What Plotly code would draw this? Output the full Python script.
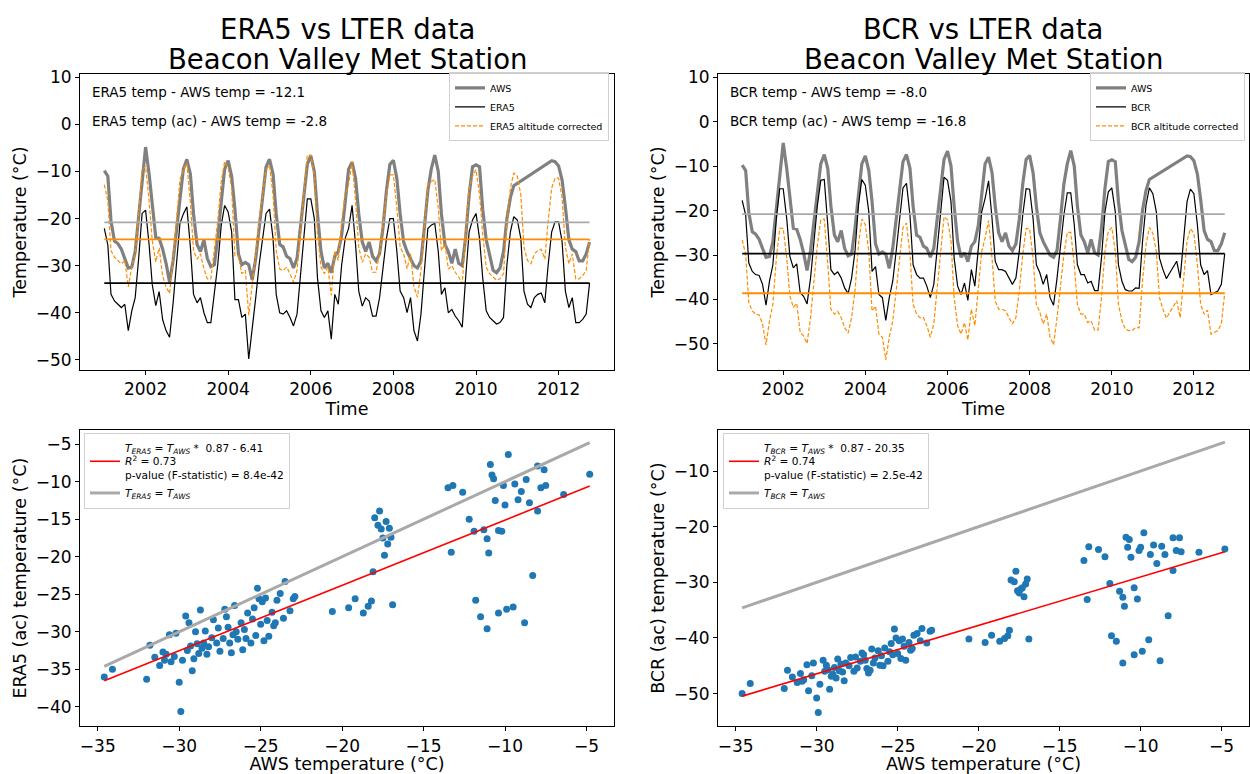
import pandas as pd
import plotly.graph_objects as go

# ---------------- data ----------------
MONTHS = pd.date_range("2001-01-01", "2012-10-01", freq="MS")

AWS = [
    -9.8, -11.0, -20.5, -24.8, -25.3, -26.5, -28.5, -30.5, -30.3, -27.0, -19.5, -11.5,
    -4.8, -10.5, -17.5, -24.0, -24.2, -26.5, -29.5, -33.5, -29.0, -22.5, -15.0, -9.5,
    -7.4, -10.5, -19.0, -25.5, -27.0, -24.5, -28.5, -30.2, -29.8, -24.0, -16.5, -9.5,
    -7.7, -11.0, -18.0, -27.5, -29.8, -29.3, -29.8, -33.0, -28.5, -22.0, -14.0, -9.0,
    -7.4, -10.5, -19.0, -25.5, -26.0, -28.0, -28.5, -30.5, -28.5, -22.0, -14.0, -8.5,
    -6.6, -10.0, -19.0, -27.0, -30.5, -29.5, -31.5, -28.0, -27.0, -23.5, -16.5, -9.5,
    -8.0, -11.5, -19.0, -25.0, -27.0, -25.0, -28.0, -29.0, -27.5, -22.0, -14.0, -8.5,
    -7.6, -11.5, -19.0, -25.0, -27.0, -28.5, -30.0, -30.5, -29.0, -22.0, -14.0, -9.5,
    -6.5, -10.0, -19.0, -25.5, -27.0, -29.5, -26.5, -29.5, -30.0, -24.0, -15.0, -9.0,
    -8.6, -9.0, -18.0, -24.5, -28.0, -31.0, -31.5, -30.5, -27.0, -20.0, -15.5, -13.0,
    None, None, None, None, None, None, None, None, None, None, -7.7, -7.9,
    -8.8, -11.8, -17.5, -24.5, -26.5, -27.0, -29.0, -29.0, -27.5, -25.0,
]

ERA5 = [
    -22.1, -25.6, -36.1, -37.5, -38.2, -38.9, -38.2, -43.8, -39.6, -36.8, -28.4, -18.9,
    -18.2, -25.5, -34.0, -38.5, -35.5, -41.5, -43.8, -45.2, -38.0, -29.0, -21.0, -19.0,
    -17.5, -26.0, -36.1, -37.9, -36.8, -40.0, -42.1, -42.1, -36.1, -29.8, -21.4, -17.2,
    -18.6, -22.8, -37.2, -37.2, -41.0, -40.3, -49.8, -43.8, -36.8, -29.8, -24.2, -18.9,
    -18.0, -24.2, -36.1, -40.0, -40.3, -39.6, -41.0, -42.8, -40.3, -32.6, -24.2, -15.8,
    -15.8, -20.0, -32.6, -39.6, -41.0, -39.6, -45.6, -36.1, -38.2, -29.8, -24.2, -22.1,
    -17.2, -25.6, -35.4, -38.6, -36.8, -37.5, -40.7, -40.7, -36.8, -31.2, -24.2, -20.0,
    -20.0, -27.0, -35.4, -36.8, -40.0, -36.8, -43.8, -46.0, -40.3, -31.2, -22.1, -21.4,
    -21.0, -27.0, -36.1, -34.7, -40.0, -39.3, -40.7, -41.7, -43.1, -32.6, -22.8, -20.3,
    -18.9, -24.2, -32.6, -39.6, -41.0, -41.7, -42.4, -42.1, -41.0, -29.8, -22.8, -19.6,
    -20.3, -24.2, -35.4, -38.2, -38.9, -36.8, -36.1, -35.8, -37.9, -29.8, -22.8, -20.7,
    -20.7, -24.9, -35.4, -38.9, -36.8, -42.1, -42.1, -41.4, -40.3, -33.7,
]

ERA5_AC = [
    -12.8, -16.3, -26.8, -28.2, -28.9, -29.6, -28.9, -34.5, -30.3, -27.5, -19.1, -9.6,
    -8.9, -16.2, -24.7, -29.2, -26.2, -32.2, -34.5, -35.9, -28.7, -19.7, -11.7, -9.7,
    -8.2, -16.7, -26.8, -28.6, -27.5, -30.7, -32.8, -32.8, -26.8, -20.5, -12.1, -7.9,
    -9.3, -13.5, -27.9, -27.9, -31.7, -31.0, -40.5, -34.5, -27.5, -20.5, -14.9, -9.6,
    -8.7, -14.9, -26.8, -30.7, -31.0, -30.3, -31.7, -33.5, -31.0, -23.3, -14.9, -6.5,
    -6.5, -10.7, -23.3, -30.3, -31.7, -30.3, -36.3, -26.8, -28.9, -20.5, -14.9, -12.8,
    -7.9, -16.3, -26.1, -29.3, -27.5, -28.2, -31.4, -31.4, -27.5, -21.9, -14.9, -10.7,
    -10.7, -17.7, -26.1, -27.5, -30.7, -27.5, -34.5, -36.7, -31.0, -21.9, -12.8, -12.1,
    -11.7, -17.7, -26.8, -25.4, -30.7, -30.0, -31.4, -32.4, -33.8, -23.3, -13.5, -11.0,
    -9.6, -14.9, -23.3, -30.3, -31.7, -32.4, -33.1, -32.8, -31.7, -20.5, -13.5, -10.3,
    -11.0, -14.9, -26.1, -28.9, -29.6, -27.5, -26.8, -26.5, -28.6, -20.5, -13.5, -11.4,
    -11.4, -15.6, -26.1, -29.6, -27.5, -32.8, -32.8, -32.1, -31.0, -24.4,
]

BCR = [
    -17.7, -21.0, -31.8, -33.7, -34.4, -34.6, -36.6, -41.3, -35.9, -32.2, -21.8, -15.1,
    -15.1, -21.8, -30.3, -32.9, -32.0, -38.5, -39.3, -41.0, -35.2, -27.7, -18.8, -13.2,
    -13.0, -23.2, -33.3, -34.4, -33.8, -35.2, -37.4, -38.7, -35.2, -29.2, -18.8, -13.0,
    -14.3, -20.3, -33.7, -32.6, -38.9, -39.6, -44.7, -39.6, -35.9, -29.2, -21.8, -14.9,
    -13.9, -21.0, -32.2, -34.4, -35.2, -35.2, -37.0, -39.6, -36.6, -29.2, -20.3, -12.5,
    -13.2, -18.0, -30.7, -37.0, -38.9, -36.3, -40.2, -33.3, -37.0, -29.2, -20.3, -17.3,
    -13.3, -21.8, -31.4, -33.3, -33.3, -33.7, -35.2, -36.6, -35.2, -29.2, -21.0, -15.1,
    -15.2, -21.8, -32.2, -34.0, -36.6, -34.4, -39.6, -41.3, -35.2, -28.5, -21.0, -16.0,
    -16.0, -23.2, -32.2, -34.4, -34.4, -36.3, -35.9, -38.0, -38.0, -30.7, -20.3, -15.8,
    -14.9, -20.3, -32.2, -35.9, -37.8, -38.1, -38.1, -37.4, -37.5, -27.0, -18.8, -14.9,
    -16.2, -20.3, -30.7, -33.3, -35.3, -34.0, -32.8, -31.4, -35.2, -26.2, -18.0, -15.2,
    -16.2, -23.2, -32.2, -34.4, -33.5, -38.9, -38.5, -38.1, -36.6, -29.7,
]

BCR_AC = [
    -26.6, -29.9, -40.7, -42.6, -43.3, -43.5, -45.5, -50.2, -44.8, -41.1, -30.7, -24.0,
    -24.0, -30.7, -39.2, -41.8, -40.9, -47.4, -48.2, -49.9, -44.1, -36.6, -27.7, -22.1,
    -21.9, -32.1, -42.2, -43.3, -42.7, -44.1, -46.3, -47.6, -44.1, -38.1, -27.7, -21.9,
    -23.2, -29.2, -42.6, -41.5, -47.8, -48.5, -53.6, -48.5, -44.8, -38.1, -30.7, -23.8,
    -22.8, -29.9, -41.1, -43.3, -44.1, -44.1, -45.9, -48.5, -45.5, -38.1, -29.2, -21.4,
    -22.1, -26.9, -39.6, -45.9, -47.8, -45.2, -49.1, -42.2, -45.9, -38.1, -29.2, -26.2,
    -22.2, -30.7, -40.3, -42.2, -42.2, -42.6, -44.1, -45.5, -44.1, -38.1, -29.9, -24.0,
    -24.1, -30.7, -41.1, -42.9, -45.5, -43.3, -48.5, -50.2, -44.1, -37.4, -29.9, -24.9,
    -24.9, -32.1, -41.1, -43.3, -43.3, -45.2, -44.8, -46.9, -46.9, -39.6, -29.2, -24.7,
    -23.8, -29.2, -41.1, -44.8, -46.7, -47.0, -47.0, -46.3, -46.4, -35.9, -27.7, -23.8,
    -25.1, -29.2, -39.6, -42.2, -44.2, -42.9, -41.7, -40.3, -44.1, -35.1, -26.9, -24.1,
    -25.1, -32.1, -41.1, -43.3, -42.4, -47.8, -47.4, -47.0, -45.5, -38.6,
]

# mean levels drawn as horizontal lines
AWS_MEAN = -20.8
ERA5_MEAN = -33.7
ERA5_AC_MEAN = -24.4
BCR_MEAN = -29.7
BCR_AC_MEAN = -38.6

TIME_TICKS = ["2002", "2004", "2006", "2008", "2010", "2012"]

# scatter data: AWS temperature vs altitude-corrected reanalysis temperature
SC_AWS = [
    -34.6, -34.1, -32.0, -31.5, -31.0, -31.2, -30.8, -30.6, -30.5, -30.3, -30.2, -30.0, -29.9,
    -29.8, -29.6, -29.5, -29.3, -29.2, -29.0, -28.9, -28.8, -28.7, -28.6, -28.5, -28.4, -28.2,
    -28.0, -27.9, -27.7, -27.5, -27.3, -27.2, -27.0, -26.9, -26.8, -26.6, -26.5, -26.4, -26.2,
    -26.0, -25.9, -25.8, -25.6, -25.5, -25.3, -25.2, -25.1, -25.0, -24.9, -24.8, -24.6, -24.5,
    -24.3, -24.2, -24.0, -23.8, -23.6, -23.5, -23.2, -23.0, -22.9, -30.9, -29.1, -28.3, -27.6,
    -26.7, -26.1, -25.4, -24.7, -24.1, -31.8, -29.4, -27.1,
    -20.6, -19.6, -19.2, -18.7, -18.4, -18.1, -18.2, -18.0, -17.7, -17.8, -17.6, -17.3, -17.5,
    -17.1, -17.0, -17.2, -16.9, -17.4,
    -13.5, -13.2, -13.3, -12.6, -12.2, -11.9, -11.8, -11.5, -11.1, -10.4, -9.9, -9.5, -8.8,
    -8.3, -11.3, -11.1, -11.0, -10.9, -10.8, -10.6, -10.4, -10.2, -10.1, -10.0, -9.8, -9.4,
    -9.0, -8.7, -8.5, -8.0, -8.0, -7.8, -7.6, -7.5, -6.4, -4.8, -10.7, -9.2,
]
SC_ERA5_AC = [
    -36.0, -35.0, -36.3, -33.4, -32.7, -34.5, -33.0, -30.4, -34.0, -33.3, -30.2, -36.7, -40.6,
    -33.8, -27.9, -32.5, -31.9, -35.2, -30.0, -31.6, -32.9, -27.1, -32.2, -31.5, -29.9, -32.0,
    -30.8, -28.4, -31.5, -32.6, -30.9, -27.0, -29.4, -31.5, -32.8, -26.5, -30.0, -31.0, -28.8,
    -29.7, -30.9, -27.5, -31.5, -28.3, -30.5, -24.2, -25.6, -29.0, -26.0, -31.2, -28.5, -30.6,
    -27.4, -29.2, -25.8, -24.9, -28.2, -23.3, -27.2, -25.6, -25.3, -33.8, -33.6, -33.0, -29.5,
    -30.4, -32.4, -26.8, -25.5, -28.8, -31.8, -28.8, -28.0,
    -27.3, -26.8, -25.6, -27.5, -26.6, -22.0, -25.9, -14.8, -13.9, -15.8, -16.3, -15.3, -17.5,
    -16.2, -17.4, -18.3, -26.4, -19.8,
    -10.8, -10.5, -19.4, -11.4, -15.0, -16.6, -25.8, -28.0, -29.6, -27.5, -27.0, -26.7, -28.8,
    -22.5, -16.4, -17.6, -19.5, -7.7, -9.1, -12.5, -16.5, -16.6, -10.5, -13.1, -6.4, -10.3,
    -11.3, -9.7, -12.8, -7.9, -13.9, -10.8, -8.4, -10.5, -11.7, -9.0, -9.6, -12.4,
]
SC_BCR_AC = [
    -50.0, -48.2, -49.1, -47.0, -46.4, -48.0, -47.5, -44.8, -49.5, -46.8, -44.5, -50.8, -53.4,
    -48.3, -44.0, -46.0, -45.7, -49.2, -46.5, -45.3, -47.2, -43.8, -45.9, -44.7, -46.1, -44.5,
    -45.0, -43.5, -46.0, -45.4, -44.2, -42.7, -44.0, -45.5, -46.3, -42.0, -44.5, -43.6, -42.3,
    -43.2, -45.0, -41.8, -44.2, -42.5, -43.0, -38.4, -40.0, -42.8, -40.5, -43.7, -41.5, -44.0,
    -40.8, -42.2, -39.5, -39.2, -40.5, -38.3, -40.9, -38.8, -38.6, -47.8, -46.9, -47.7, -43.4,
    -45.8, -44.9, -41.0, -40.2, -41.9, -45.8, -44.9, -43.0,
    -40.2, -40.8, -39.5, -40.6, -40.1, -38.6, -39.6, -29.6, -28.0, -29.9, -31.5, -31.0, -31.9,
    -30.3, -29.4, -32.6, -40.2, -31.2,
    -26.1, -23.6, -33.1, -24.1, -25.4, -30.2, -39.6, -40.6, -44.5, -43.0, -42.4, -40.3, -44.1,
    -36.0, -31.6, -32.7, -34.3, -21.9, -23.7, -25.5, -31.0, -33.0, -24.3, -23.7, -21.1, -25.0,
    -26.6, -23.5, -25.0, -22.0, -27.9, -24.3, -22.0, -24.5, -24.6, -24.0, -22.3, -23.3,
]

# regression results
ERA5_SLOPE, ERA5_ICPT, ERA5_R2, ERA5_P = 0.87, -6.41, "0.73", "8.4e-42"
BCR_SLOPE, BCR_ICPT, BCR_R2, BCR_P = 0.87, -20.35, "0.74", "2.5e-42"

ERA5_DIFF, ERA5_AC_DIFF = "-12.1", "-2.8"
BCR_DIFF, BCR_AC_DIFF = "-8.0", "-16.8"

# ---------------- figure ----------------
W, H = 1250, 774
FONT = "DejaVu Sans"

fig = go.Figure()

first, last = MONTHS[0], MONTHS[-1]


def time_panel(xa, ya, leg, name, vals, vals_ac, mean, mean_ac):
    fig.add_trace(go.Scatter(x=MONTHS, y=AWS, mode="lines", name="AWS", connectgaps=True,
                             line=dict(color="#808080", width=3.2), xaxis=xa, yaxis=ya, legend=leg))
    fig.add_trace(go.Scatter(x=MONTHS, y=vals, mode="lines", name=name,
                             line=dict(color="black", width=1.2), xaxis=xa, yaxis=ya, legend=leg))
    fig.add_trace(go.Scatter(x=MONTHS, y=vals_ac, mode="lines", name=name + " altitude corrected",
                             line=dict(color="#ff8c00", width=1.2, dash="4px,2px"),
                             xaxis=xa, yaxis=ya, legend=leg))
    for lvl, col in [(AWS_MEAN, "#a9a9a9"), (mean_ac, "#ff8c00"), (mean, "black")]:
        fig.add_trace(go.Scatter(x=[first, last], y=[lvl, lvl], mode="lines", showlegend=False,
                                 line=dict(color=col, width=1.8), xaxis=xa, yaxis=ya))


time_panel("x", "y", "legend", "ERA5", ERA5, ERA5_AC, ERA5_MEAN, ERA5_AC_MEAN)
time_panel("x2", "y2", "legend2", "BCR", BCR, BCR_AC, BCR_MEAN, BCR_AC_MEAN)

xmin, xmax = min(SC_AWS), max(SC_AWS)


def scatter_panel(xa, ya, leg, sub, yvals, slope, icpt, r2, p):
    fig.add_trace(go.Scatter(x=SC_AWS, y=yvals, mode="markers", showlegend=False,
                             marker=dict(color="#1f77b4", size=7), xaxis=xa, yaxis=ya))
    sign = "-" if icpt < 0 else "+"
    lab = (f"<i>T<sub>{sub}</sub></i> = <i>T<sub>AWS</sub></i> *  {slope:.2f} {sign} {abs(icpt):.2f}"
           f"<br><i>R</i><sup>2</sup> = {r2}<br>p-value (F-statistic) = {p}")
    fig.add_trace(go.Scatter(x=[xmin, xmax], y=[slope * xmin + icpt, slope * xmax + icpt],
                             mode="lines", name=lab, line=dict(color="red", width=1.6),
                             xaxis=xa, yaxis=ya, legend=leg))
    fig.add_trace(go.Scatter(x=[xmin, xmax], y=[xmin, xmax], mode="lines",
                             name=f"<i>T<sub>{sub}</sub></i> = <i>T<sub>AWS</sub></i>",
                             line=dict(color="#a9a9a9", width=3), xaxis=xa, yaxis=ya, legend=leg))


scatter_panel("x3", "y3", "legend3", "ERA5", SC_ERA5_AC, ERA5_SLOPE, ERA5_ICPT, ERA5_R2, ERA5_P)
scatter_panel("x4", "y4", "legend4", "BCR", SC_BCR_AC, BCR_SLOPE, BCR_ICPT, BCR_R2, BCR_P)

# ---------------- layout ----------------
LX = [80 / W, 614 / W]
RX = [718 / W, 1249 / W]
TY = [1 - 366 / H, 1 - 67.7 / H]
BY = [1 - 726 / H, 1 - 426.7 / H]

base = dict(showline=True, linecolor="black", linewidth=1, mirror=True, ticks="outside",
            ticklen=4, tickwidth=1, tickcolor="black", showgrid=False, zeroline=False,
            tickfont=dict(size=17, family=FONT, color="black"),
            title_font=dict(size=17.5, family=FONT, color="black"))

date_ticks = [pd.Timestamp(f"{t}-01-01") for t in TIME_TICKS]
date_range = [pd.Timestamp("2000-05-31"), pd.Timestamp("2013-05-05")]

fig.update_layout(
    width=W, height=H, margin=dict(l=0, r=0, t=0, b=0),
    plot_bgcolor="white", paper_bgcolor="white",
    font=dict(family=FONT, color="black"),
    xaxis=dict(base, domain=LX, anchor="y", type="date", range=date_range,
               tickvals=date_ticks, ticktext=TIME_TICKS, title=dict(text="Time", standoff=1)),
    yaxis=dict(base, domain=TY, anchor="x", range=[-52.1, 10.7], tickvals=list(range(-50, 11, 10)),
               title=dict(text="Temperature (°C)", standoff=4)),
    xaxis2=dict(base, domain=RX, anchor="y2", type="date", range=date_range,
                tickvals=date_ticks, ticktext=TIME_TICKS, title=dict(text="Time", standoff=1)),
    yaxis2=dict(base, domain=TY, anchor="x2", range=[-55.8, 10.7], tickvals=list(range(-50, 11, 10)),
                title=dict(text="Temperature (°C)", standoff=4)),
    xaxis3=dict(base, domain=LX, anchor="y3", range=[-36.09, -3.31], tickvals=list(range(-35, -4, 5)),
                title=dict(text="AWS temperature (°C)", standoff=3)),
    yaxis3=dict(base, domain=BY, anchor="x3", range=[-42.6, -3.1], tickvals=list(range(-40, -4, 5)),
                title=dict(text="ERA5 (ac) temperature (°C)", standoff=4)),
    xaxis4=dict(base, domain=RX, anchor="y4", range=[-36.09, -3.31], tickvals=list(range(-35, -4, 5)),
                title=dict(text="AWS temperature (°C)", standoff=3)),
    yaxis4=dict(base, domain=BY, anchor="x4", range=[-55.9, -2.6], tickvals=list(range(-50, -9, 10)),
                title=dict(text="BCR (ac) temperature (°C)", standoff=4)),
)

leg_small = dict(bgcolor="rgba(255,255,255,0.8)", bordercolor="#d0d0d0", borderwidth=1,
                 font=dict(size=9.5, family=FONT, color="black"), tracegroupgap=0,
                 yanchor="top", xanchor="right", itemwidth=30)
leg_big = dict(bgcolor="rgba(255,255,255,0.8)", bordercolor="#d0d0d0", borderwidth=1,
               font=dict(size=10.6, family=FONT, color="black"), tracegroupgap=0,
               yanchor="top", xanchor="left", itemwidth=30, valign="middle")

fig.update_layout(
    legend=dict(leg_small, x=609 / W, y=1 - 66 / H),
    legend2=dict(leg_small, x=1245 / W, y=1 - 66 / H),
    legend3=dict(leg_big, x=84 / W, y=1 - 430 / H),
    legend4=dict(leg_big, x=723 / W, y=1 - 430 / H),
)

annots = []
for cx, t1 in [((LX[0] + LX[1]) / 2, "ERA5 vs LTER data"), ((RX[0] + RX[1]) / 2, "BCR vs LTER data")]:
    annots.append(dict(x=cx, y=1 - 22 / H, xref="paper", yref="paper", text=t1, showarrow=False,
                       xanchor="center", yanchor="middle", font=dict(size=27.5, family=FONT)))
    annots.append(dict(x=cx, y=1 - 52 / H, xref="paper", yref="paper", text="Beacon Valley Met Station",
                       showarrow=False, xanchor="center", yanchor="middle", font=dict(size=27.5, family=FONT)))

for x0, name, d1, d2 in [(90 / W, "ERA5", ERA5_DIFF, ERA5_AC_DIFF), (728 / W, "BCR", BCR_DIFF, BCR_AC_DIFF)]:
    annots.append(dict(x=x0, y=1 - 86 / H, xref="paper", yref="paper",
                       text=f"{name} temp - AWS temp = {d1}", showarrow=False,
                       xanchor="left", yanchor="middle", font=dict(size=13.5, family=FONT)))
    annots.append(dict(x=x0, y=1 - 115 / H, xref="paper", yref="paper",
                       text=f"{name} temp (ac) - AWS temp = {d2}", showarrow=False,
                       xanchor="left", yanchor="middle", font=dict(size=13.5, family=FONT)))

fig.update_layout(annotations=annots)

fig.write_html("out.html")
